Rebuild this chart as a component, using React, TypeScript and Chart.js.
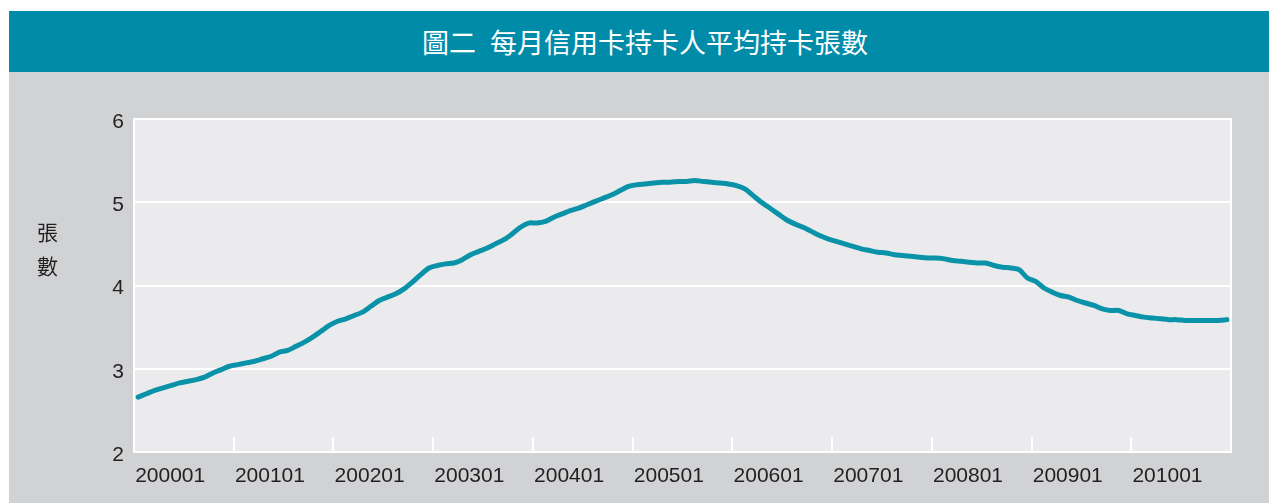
import React, { useEffect, useRef } from 'react';
import { Chart, registerables } from 'chart.js';

Chart.register(...registerables);

const titleNumber = '圖二';
const titleText = '每月信用卡持卡人平均持卡張數';
const yTitle = ['張', '數'];

const years = ['2000', '2001', '2002', '2003', '2004', '2005', '2006', '2007', '2008', '2009', '2010'];
const monthCodes = ['01', '02', '03', '04', '05', '06', '07', '08', '09', '10', '11', '12'];

const v2000 = [2.66, 2.70, 2.74, 2.77, 2.80, 2.83, 2.85, 2.87, 2.90, 2.95, 2.99, 3.03];
const v2001 = [3.05, 3.07, 3.09, 3.12, 3.15, 3.20, 3.22, 3.27, 3.32, 3.38, 3.45, 3.52];
const v2002 = [3.57, 3.60, 3.64, 3.68, 3.75, 3.82, 3.86, 3.90, 3.96, 4.04, 4.13, 4.21];
const v2003 = [4.24, 4.26, 4.27, 4.31, 4.37, 4.41, 4.45, 4.50, 4.55, 4.62, 4.70, 4.75];
const v2004 = [4.75, 4.77, 4.82, 4.86, 4.90, 4.93, 4.97, 5.01, 5.05, 5.09, 5.14, 5.19];
const v2005 = [5.21, 5.22, 5.23, 5.24, 5.24, 5.25, 5.25, 5.26, 5.25, 5.24, 5.23, 5.22];
const v2006 = [5.20, 5.16, 5.08, 5.00, 4.93, 4.86, 4.79, 4.74, 4.70, 4.65, 4.60, 4.56];
const v2007 = [4.53, 4.50, 4.47, 4.44, 4.42, 4.40, 4.39, 4.37, 4.36, 4.35, 4.34, 4.33];
const v2008 = [4.33, 4.32, 4.30, 4.29, 4.28, 4.27, 4.27, 4.24, 4.22, 4.21, 4.19, 4.09];
const v2009 = [4.05, 3.97, 3.92, 3.88, 3.86, 3.82, 3.79, 3.76, 3.72, 3.70, 3.70, 3.66];
const v2010 = [3.64, 3.62, 3.61, 3.60, 3.59, 3.59, 3.58, 3.58, 3.58, 3.58, 3.58, 3.59];

const cardsPerHolder = [
  ...v2000, ...v2001, ...v2002, ...v2003, ...v2004, ...v2005,
  ...v2006, ...v2007, ...v2008, ...v2009, ...v2010,
];

const categories: string[] = years.flatMap((y) => monthCodes.map((m) => y + m));
const tickLabels = ['200001', '200101', '200201', '200301', '200401', '200501', '200601', '200701', '200801', '200901', '201001'];
const yTicks = [2, 3, 4, 5, 6];

const TEXT = '#231f20';
const TEAL_BAR = '#008ca8';
const LINE = '#0a93a8';
const BG = '#d1d2d4';
const PLOT = '#ebebed';
const NUM_FONT = '"Liberation Sans", Arial, sans-serif';
const CJK_FONT = '"Noto Sans CJK TC", "Noto Sans", sans-serif';

const framePlugin = {
  id: 'frame',
  beforeDraw(chart: any) {
    const { ctx, chartArea: a } = chart;
    ctx.save();
    ctx.fillStyle = PLOT;
    ctx.fillRect(a.left, a.top, a.right - a.left, a.bottom - a.top);
    ctx.restore();
  },
  beforeDatasetsDraw(chart: any) {
    const { ctx, chartArea: a } = chart;
    const xs = chart.scales.x;
    const half = (xs.getPixelForValue(1) - xs.getPixelForValue(0)) / 2;
    ctx.save();
    ctx.strokeStyle = '#ffffff';
    ctx.lineWidth = 2;
    categories.forEach((c, i) => {
      if (i > 0 && tickLabels.includes(c)) {
        const px = Math.round(xs.getPixelForValue(i) - half);
        ctx.beginPath();
        ctx.moveTo(px, a.bottom);
        ctx.lineTo(px, a.bottom - 15);
        ctx.stroke();
      }
    });
    ctx.strokeRect(a.left, a.top, a.right - a.left, a.bottom - a.top);
    ctx.restore();
  },
};

function LineChart() {
  const ref = useRef<HTMLCanvasElement | null>(null);
  useEffect(() => {
    if (!ref.current) return;
    const chart = new Chart(ref.current, {
      type: 'line',
      data: {
        labels: categories,
        datasets: [
          {
            data: cardsPerHolder,
            borderColor: LINE,
            borderWidth: 5,
            pointRadius: 0,
            tension: 0.3,
            borderCapStyle: 'round',
            borderJoinStyle: 'round',
            fill: false,
          },
        ],
      },
      options: {
        animation: false,
        responsive: true,
        maintainAspectRatio: false,
        layout: { padding: { top: 47, right: 38, left: 0, bottom: 0 } },
        plugins: { legend: { display: false }, tooltip: { enabled: false } },
        scales: {
          x: {
            type: 'category',
            offset: true,
            grid: { display: false, drawTicks: false },
            border: { display: false },
            ticks: {
              autoSkip: false,
              maxRotation: 0,
              minRotation: 0,
              align: 'start',
              labelOffset: -3,
              padding: 12,
              color: TEXT,
              font: { size: 21, family: NUM_FONT },
              callback: (_v: any, i: number) => (tickLabels.includes(categories[i]) ? categories[i] : ''),
            },
            afterFit: (s: any) => {
              s.height = 51;
            },
          },
          y: {
            min: yTicks[0],
            max: yTicks[yTicks.length - 1],
            grid: { color: '#ffffff', lineWidth: 2, drawTicks: false },
            border: { display: false },
            ticks: {
              stepSize: 1,
              padding: 10,
              labelOffset: 3,
              color: TEXT,
              font: { size: 21, family: NUM_FONT },
            },
            afterFit: (s: any) => {
              s.width = 125;
            },
          },
        },
      },
      plugins: [framePlugin],
    } as any);
    return () => chart.destroy();
  }, []);
  return <canvas ref={ref} />;
}

export default function App() {
  return (
    <div>
      <div
        style={{
          position: 'fixed',
          left: 9,
          top: 11,
          width: 1272,
          height: 61,
          background: TEAL_BAR,
          color: '#ffffff',
          textAlign: 'center',
          lineHeight: '61px',
          fontSize: 27,
          fontFamily: CJK_FONT,
          whiteSpace: 'nowrap',
        }}
      >
        <span>{titleNumber}</span>
        <span style={{ marginLeft: 14 }}>{titleText}</span>
      </div>
      <div
        style={{
          position: 'fixed',
          left: 9,
          top: 72,
          width: 1260,
          height: 431,
          background: BG,
        }}
      >
        <div style={{ position: 'absolute', left: 0, top: 0, width: 1260, height: 431 }}>
          <LineChart />
        </div>
        <div
          style={{
            position: 'absolute',
            left: 28,
            top: 142,
            fontSize: 21,
            lineHeight: '34px',
            color: TEXT,
            fontFamily: CJK_FONT,
          }}
        >
          {yTitle.map((c) => (
            <div key={c}>{c}</div>
          ))}
        </div>
      </div>
    </div>
  );
}
